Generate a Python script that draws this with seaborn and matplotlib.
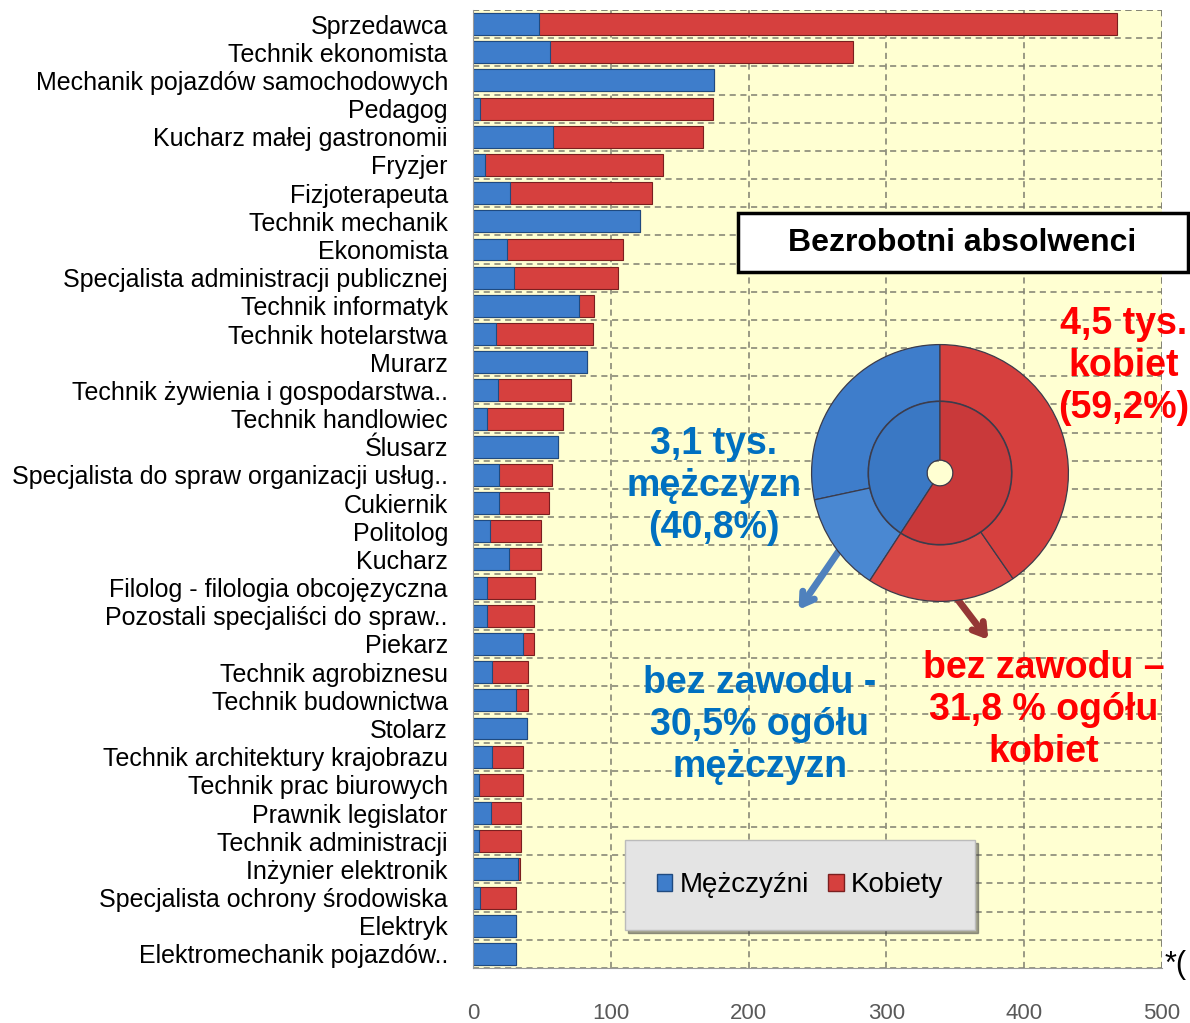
import matplotlib
matplotlib.use('Agg')
import matplotlib.pyplot as plt
from matplotlib.patches import Patch, Rectangle
import numpy as np
import pandas as pd
import seaborn as sns

# Dane - bezrobotni absolwenci wg zawodu
zawody = [
    'Sprzedawca', 'Technik ekonomista', 'Mechanik pojazdów samochodowych', 'Pedagog',
    'Kucharz małej gastronomii', 'Fryzjer', 'Fizjoterapeuta', 'Technik mechanik',
    'Ekonomista', 'Specjalista administracji publicznej', 'Technik informatyk',
    'Technik hotelarstwa', 'Murarz', 'Technik żywienia i gospodarstwa..',
    'Technik handlowiec', 'Ślusarz', 'Specjalista do spraw organizacji usług..',
    'Cukiernik', 'Politolog', 'Kucharz', 'Filolog - filologia obcojęzyczna',
    'Pozostali specjaliści do spraw..', 'Piekarz', 'Technik agrobiznesu',
    'Technik budownictwa', 'Stolarz', 'Technik architektury krajobrazu',
    'Technik prac biurowych', 'Prawnik legislator', 'Technik administracji',
    'Inżynier elektronik', 'Specjalista ochrony środowiska', 'Elektryk',
    'Elektromechanik pojazdów..',
]
mezczyzni = [48, 56, 175, 5, 58, 9, 27, 121, 25, 30, 77, 17, 83, 18, 10, 62, 19,
             19, 12, 26, 10, 10, 36, 14, 31, 39, 14, 4, 13, 4, 33, 5, 31, 31]
kobiety = [419, 220, 0, 169, 109, 129, 103, 0, 84, 75, 11, 70, 0, 53, 55, 0, 38,
           36, 37, 23, 35, 34, 8, 26, 9, 0, 22, 32, 22, 31, 1, 26, 0, 0]
x_ticks = [0, 100, 200, 300, 400, 500]

# Pierścień - udział płci i odsetek bez zawodu
udzial = [40.8, 59.2]          # mężczyźni, kobiety (%)
bez_zawodu = [30.5, 31.8]      # % ogółu danej płci

NIEBIESKI = '#3E7DCB'
CZERWONY = '#D6403E'

dane = pd.DataFrame({'zawod': zawody, 'm': mezczyzni, 'k': kobiety})
dane['razem'] = dane['m'] + dane['k']

sns.set_style('white')
plt.rcParams['font.family'] = ['Liberation Sans', 'DejaVu Sans']
plt.rcParams['text.color'] = 'black'
plt.rcParams['ytick.color'] = 'black'

fig = plt.figure(figsize=(11.9, 10.23), dpi=100)
W, H = 1190, 1023
ax = fig.add_axes([473 / W, 1 - 968 / H, (1162 - 473) / W, (968 - 10) / H])
ax.set_facecolor('#FFFFD2')

sns.barplot(data=dane, x='razem', y='zawod', color=CZERWONY, saturation=1,
            width=0.78, edgecolor='#7a1f1f', linewidth=0.8, ax=ax, orient='h')
sns.barplot(data=dane, x='m', y='zawod', color=NIEBIESKI, saturation=1,
            width=0.78, edgecolor='#1f4a80', linewidth=0.8, ax=ax, orient='h')

n = len(zawody)
ax.set_xlim(0, 500)
ax.set_ylim(n - 0.5, -0.5)
ax.set_xticks(x_ticks)
ax.set_xticklabels([str(t) for t in x_ticks], fontsize=16, color='#595959')
ax.tick_params(axis='x', length=0, pad=25)
ax.tick_params(axis='y', which='major', length=0, pad=18, labelsize=18,
               labelcolor='black')
ax.set_yticks(np.arange(-0.5, n, 1), minor=True)
ax.tick_params(axis='y', which='minor', length=4, color='#999999')
ax.set_xlabel('')
ax.set_ylabel('')

ax.grid(axis='x', which='major', ls=(0, (4, 3)), color='#7f7f70', lw=1.1)
ax.grid(axis='y', which='minor', ls=(0, (4, 3)), color='#7f7f70', lw=1.1)
ax.set_axisbelow(True)
for s in ['top', 'right']:
    ax.spines[s].set_visible(False)
for s in ['left', 'bottom']:
    ax.spines[s].set_color('#999999')
ax.axvline(500, ls=(0, (4, 3)), color='#7f7f70', lw=1.1)
ax.axhline(-0.5, ls=(0, (4, 3)), color='#7f7f70', lw=1.1)

# Legenda
uchwyty = [Patch(facecolor=NIEBIESKI, edgecolor='#1f4a80', label='Mężczyźni'),
           Patch(facecolor=CZERWONY, edgecolor='#7a1f1f', label='Kobiety')]
leg = ax.legend(handles=uchwyty, loc='center', bbox_to_anchor=(800 / W, 1 - 885 / H),
                bbox_transform=fig.transFigure, ncol=2, fontsize=20, frameon=True,
                fancybox=False, shadow=True, handlelength=0.55, handleheight=0.55,
                handletextpad=0.25, columnspacing=0.7, borderpad=1.15,
                borderaxespad=0)
leg.get_frame().set_facecolor('#E4E4E4')
leg.get_frame().set_edgecolor('#BBBBBB')

# Tytuł w ramce
fig.patches.append(Rectangle((738 / W, 1 - 272 / H), 450 / W, 59 / H,
                             transform=fig.transFigure, facecolor='white',
                             edgecolor='black', lw=2.5, zorder=5))
fig.text(962 / W, 1 - 243 / H, 'Bezrobotni absolwenci', ha='center', va='center',
         fontsize=23, fontweight='bold', color='black', zorder=6)

# Pierścień
axp = fig.add_axes([809 / W, 1 - 604 / H, 262 / W, 262 / H])
m_bez = udzial[0] * bez_zawodu[0] / 100
k_bez = udzial[1] * bez_zawodu[1] / 100
zewn = [udzial[0] - m_bez, m_bez, k_bez, udzial[1] - k_bez]
axp.pie(zewn, radius=1, startangle=90, counterclock=True,
        colors=[NIEBIESKI, '#4A88D2', '#DA4845', CZERWONY],
        wedgeprops=dict(width=0.44, edgecolor='#3b3b4b', linewidth=0.9))
axp.pie(udzial, radius=0.557, startangle=90, counterclock=True,
        colors=['#3A78C4', '#C9393A'],
        wedgeprops=dict(width=0.457, edgecolor='#3b3b4b', linewidth=0.9))
axp.set_aspect('equal')
axp.set_xlim(-1.02, 1.02)
axp.set_ylim(-1.02, 1.02)
axp.axis('off')

# Opisy
niebieski_txt = '#0070C0'
czerwony_txt = '#FF0000'
opis = dict(ha='center', va='center', fontsize=27, fontweight='bold', linespacing=1.2)
fig.text(714 / W, 1 - 486 / H, '3,1 tys.\nmężczyzn\n(40,8%)', color=niebieski_txt, **opis)
fig.text(1124 / W, 1 - 366 / H, '4,5 tys.\nkobiet\n(59,2%)', color=czerwony_txt, **opis)
fig.text(760 / W, 1 - 725 / H, 'bez zawodu -\n30,5% ogółu\nmężczyzn',
         color=niebieski_txt, **opis)
fig.text(1044 / W, 1 - 710 / H, 'bez zawodu –\n31,8 % ogółu\nkobiet',
         color=czerwony_txt, **opis)

# Strzałki
ax.annotate('', xy=(797, H - 612), xytext=(843, H - 545), xycoords='figure pixels',
            textcoords='figure pixels',
            arrowprops=dict(arrowstyle='->, head_length=0.8, head_width=0.5',
                            color='#4F81BD', lw=5))
ax.annotate('', xy=(990, H - 642), xytext=(952, H - 592), xycoords='figure pixels',
            textcoords='figure pixels',
            arrowprops=dict(arrowstyle='->, head_length=0.8, head_width=0.5',
                            color='#953735', lw=5))

fig.text(1165 / W, 1 - 965 / H, '*(', ha='left', va='center', fontsize=22)

fig.savefig('out.png', dpi=100)
